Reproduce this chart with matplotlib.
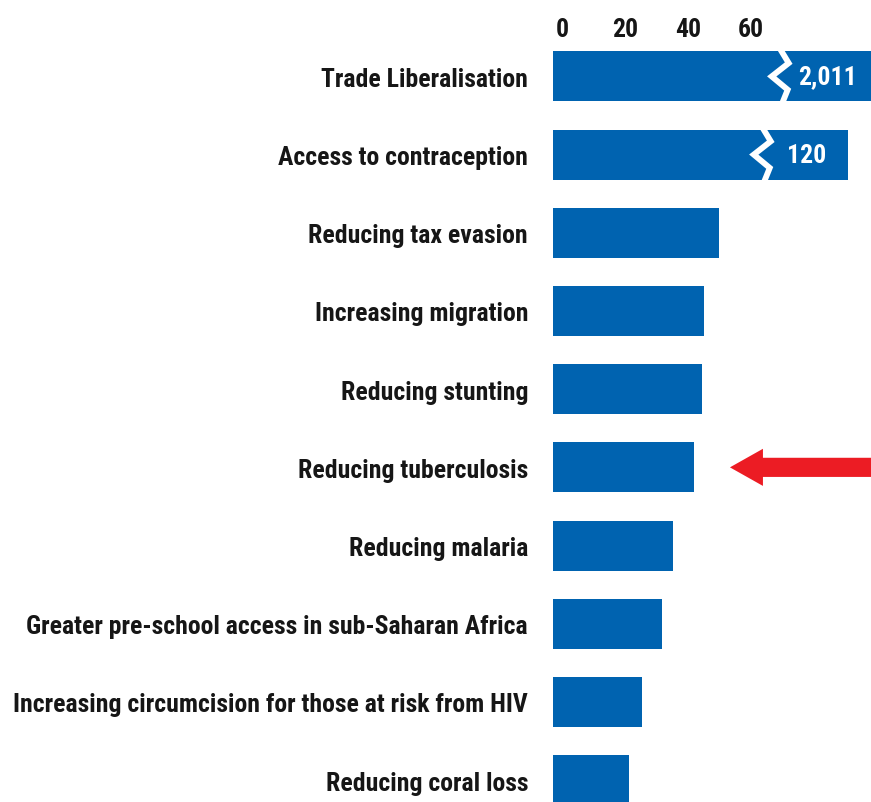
import matplotlib
matplotlib.use("Agg")
import matplotlib.pyplot as plt
import matplotlib.transforms as mtransforms
from matplotlib.patches import FancyArrow

plt.rcParams['font.family'] = ['Roboto Condensed', 'Liberation Sans Narrow', 'Roboto', 'DejaVu Sans']
plt.rcParams['font.weight'] = 'bold'

# data (benefit per dollar spent)
labels = ['Trade Liberalisation', 'Access to contraception', 'Reducing tax evasion',
          'Increasing migration', 'Reducing stunting', 'Reducing tuberculosis',
          'Reducing malaria', 'Greater pre-school access in sub-Saharan Africa',
          'Increasing circumcision for those at risk from HIV', 'Reducing coral loss']
values = [2011, 120, 52.8, 47.9, 47.3, 44.8, 38.0, 34.6, 28.2, 24.2]
value_text = ['2,011', '120']
# the two off-scale bars are drawn cut, with a break mark
shown_len = [106, 93.7]
break_at = [72.0, 66.3]
ticks = [0, 20, 40, 60]

blue = '#0063b0'
red = '#ec1c24'
ink = '#161616'
fs = 18.5

fig = plt.figure(figsize=(8.71, 8.03), dpi=100)
ax = fig.add_axes([553 / 871, 0, 1 - 553 / 871, 1])

ypos = list(range(len(labels)))
lengths = [shown_len[i] if i < len(shown_len) else v for i, v in enumerate(values)]
ax.barh(ypos, lengths, height=0.64, color=blue, zorder=2)

ax.set_xlim(0, 101)
ax.set_ylim(9.28, -0.99)

# px -> data units along x
pxu = 101 / (871 - 553)
zig = [(0, -0.36), (9, -0.17), (-8, 0.0), (8, 0.17), (2, 0.36)]
for i, xb in enumerate(break_at):
    xs = [xb + dx * pxu for dx, dy in zig]
    ys = [i + dy for dx, dy in zig]
    ax.plot(xs, ys, color='white', lw=4.2, solid_joinstyle='miter', zorder=3)
    right_end = min(shown_len[i], 101)
    ax.text((xb + right_end) / 2 + 2 * pxu, i, value_text[i], color='white',
            fontsize=fs, fontweight='bold', ha='center', va='center', zorder=4)

# red arrow pointing at tuberculosis
tb = labels.index('Reducing tuberculosis')
tip = values[tb] + 11.4
arr = FancyArrow(110, tb, tip - 110, 0, width=0.245, head_width=0.475,
                 head_length=33 * pxu, length_includes_head=True,
                 color=red, lw=0, zorder=3)
ax.add_patch(arr)

ax.set_yticks(ypos)
ax.set_yticklabels(labels, fontsize=fs, color=ink)
ax.tick_params(axis='y', length=0, pad=18)

ax.xaxis.tick_top()
ax.set_xticks(ticks)
ax.set_xticklabels([str(t) for t in ticks], fontsize=fs, color=ink)
ax.tick_params(axis='x', length=0, pad=-30)
shift = mtransforms.ScaledTranslation(9 / 100, 0, fig.dpi_scale_trans)
for lab in ax.get_xticklabels():
    lab.set_transform(lab.get_transform() + shift)

for s in ax.spines.values():
    s.set_visible(False)

fig.savefig('out.png', dpi=100)
